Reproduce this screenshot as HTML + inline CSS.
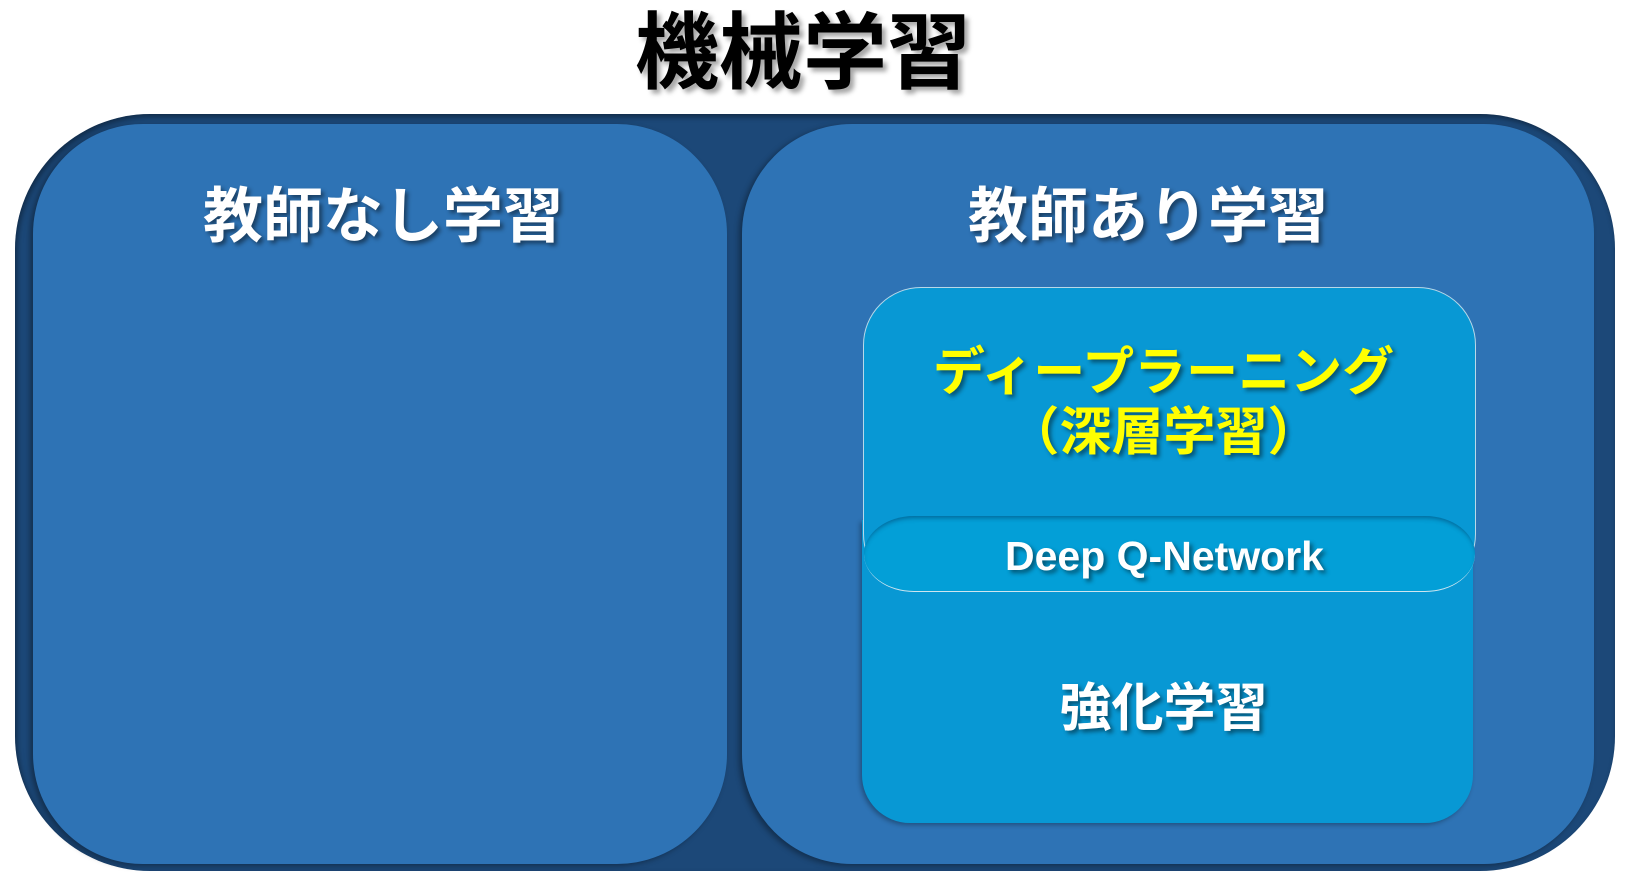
<!DOCTYPE html>
<html><head><meta charset="utf-8"><style>
html,body{margin:0;padding:0;background:#fff;}
body{width:1626px;height:884px;position:relative;overflow:hidden;font-family:"Liberation Sans","Noto Sans CJK JP",sans-serif;font-weight:bold;}
.abs{position:absolute;box-sizing:border-box;}
.t{position:absolute;text-align:center;white-space:nowrap;text-shadow:3px 3px 4px rgba(0,0,0,0.45);}
</style></head><body>
<div class="t" style="left:-10px;width:1626px;top:8px;font-size:84px;line-height:90px;color:#000;text-shadow:4px 4px 5px rgba(0,0,0,0.35)">機械学習</div>
<div class="abs" style="left:15px;top:114px;width:1600px;height:757px;border-radius:135px;background:#1c4878;box-shadow:inset 2px 3px 6px rgba(0,0,0,0.4)"></div>
<div class="abs" style="left:33px;top:124px;width:694px;height:740px;border-radius:110px;background:#2e73b5;box-shadow:-3px 2px 6px rgba(0,0,0,0.35)"></div>
<div class="abs" style="left:742px;top:124px;width:852px;height:740px;border-radius:110px;background:#2e73b5;box-shadow:-3px 2px 6px rgba(0,0,0,0.35)"></div>
<div class="t" style="left:36px;width:694px;top:182px;font-size:60px;line-height:70px;color:#fff">教師なし学習</div>
<div class="t" style="left:738px;width:820px;top:182px;font-size:60px;line-height:70px;color:#fff">教師あり学習</div>
<div class="abs" style="left:862px;top:520px;width:611px;height:303px;border-radius:0 0 48px 48px;background:#0898d4;box-shadow:-2px 2px 5px rgba(0,0,0,0.3)"></div>
<div class="abs" style="left:863px;top:287px;width:613px;height:305px;border-radius:58px;background:#0898d4;border:1px solid #b8d8e8"></div>
<div class="abs" style="left:864px;top:516px;width:611px;height:76px;border-radius:58px/44px;background:#039fd7;border-bottom:1px solid #cfe6f0;box-shadow:inset 0 4px 5px -2px rgba(0,40,80,0.45)"></div>
<div class="t" style="left:857px;width:613px;top:342px;font-size:52px;line-height:62px;color:#ffff00">ディープラーニング</div>
<div class="t" style="left:857px;width:613px;top:402px;font-size:52px;line-height:62px;color:#ffff00">（深層学習）</div>
<div class="t" style="left:858px;width:613px;top:532px;font-size:41px;line-height:48px;color:#fff">Deep Q-Network</div>
<div class="t" style="left:858px;width:611px;top:678px;font-size:52px;line-height:62px;color:#fff">強化学習</div>
</body></html>
